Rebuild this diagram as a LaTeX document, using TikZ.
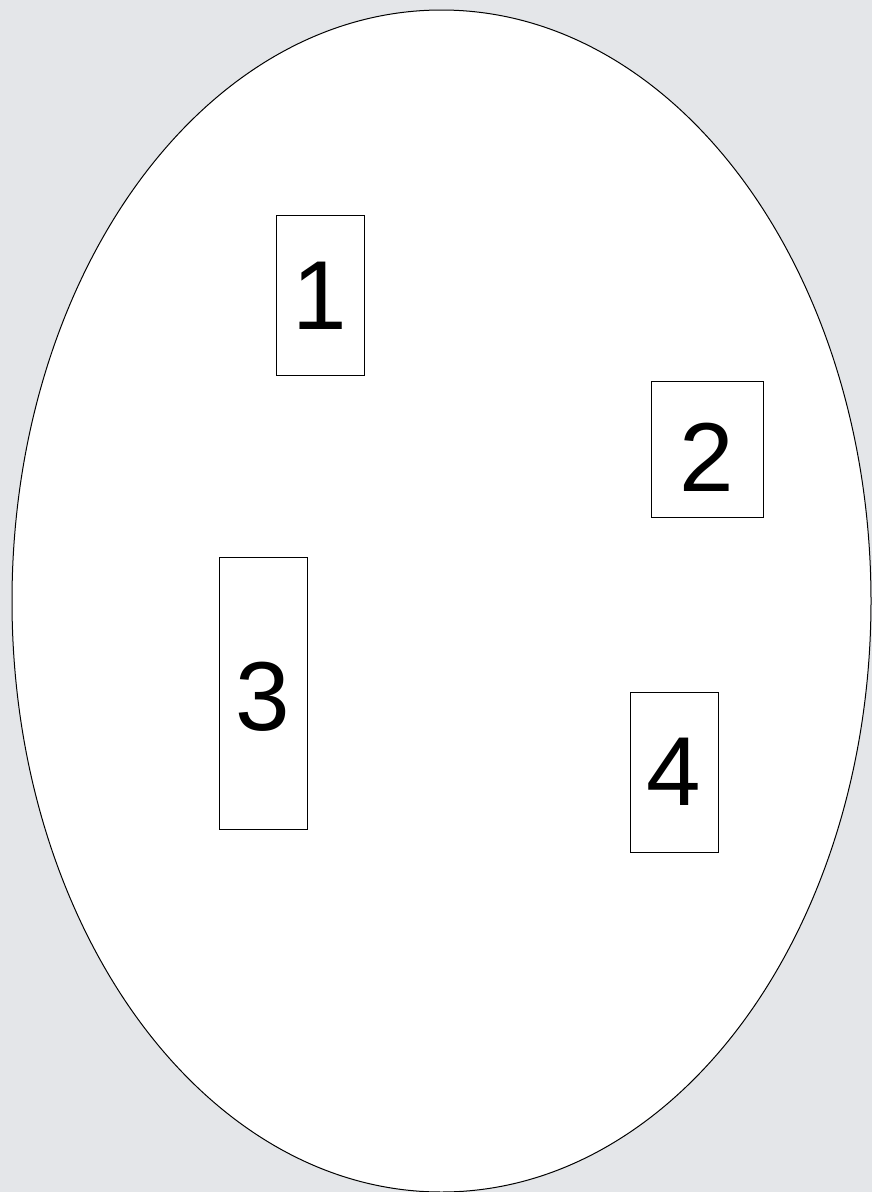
\documentclass[tikz,border=0pt]{standalone}
\usepackage{fontspec}
\setmainfont{Liberation Sans}
\usetikzlibrary{shapes.geometric}
\definecolor{bg}{RGB}{228,230,233}
\begin{document}
\begin{tikzpicture}[x=1pt,y=-1pt,
  numbox/.style={draw=black,line width=1pt,fill=white,inner sep=0pt},
  digit/.style={inner sep=0pt,font=\fontsize{98}{98}\selectfont}]
\fill[bg] (0,0) rectangle (872,1192);
\useasboundingbox (0,0) rectangle (872,1192);
\node[draw=black,line width=1pt,fill=white,ellipse,inner sep=0pt,minimum width=859pt,minimum height=1182pt] (oval) at (441.5,601) {};
\node[numbox,minimum width=88pt,minimum height=160pt] (n1) at (320,295) {};
\node[numbox,minimum width=112pt,minimum height=136pt] (n2) at (707,449) {};
\node[numbox,minimum width=88pt,minimum height=272pt] (n3) at (263,693) {};
\node[numbox,minimum width=88pt,minimum height=160pt] (n4) at (674,772) {};
\node[digit] (d1) at ([yshift=-1pt]n1.center) {1};
\node[digit] (d2) at ([yshift=-8pt]n2.center) {2};
\node[digit] (d3) at ([yshift=-3.5pt]n3.center) {3};
\node[digit] (d4) at (n4.center) {4};
\end{tikzpicture}
\end{document}
